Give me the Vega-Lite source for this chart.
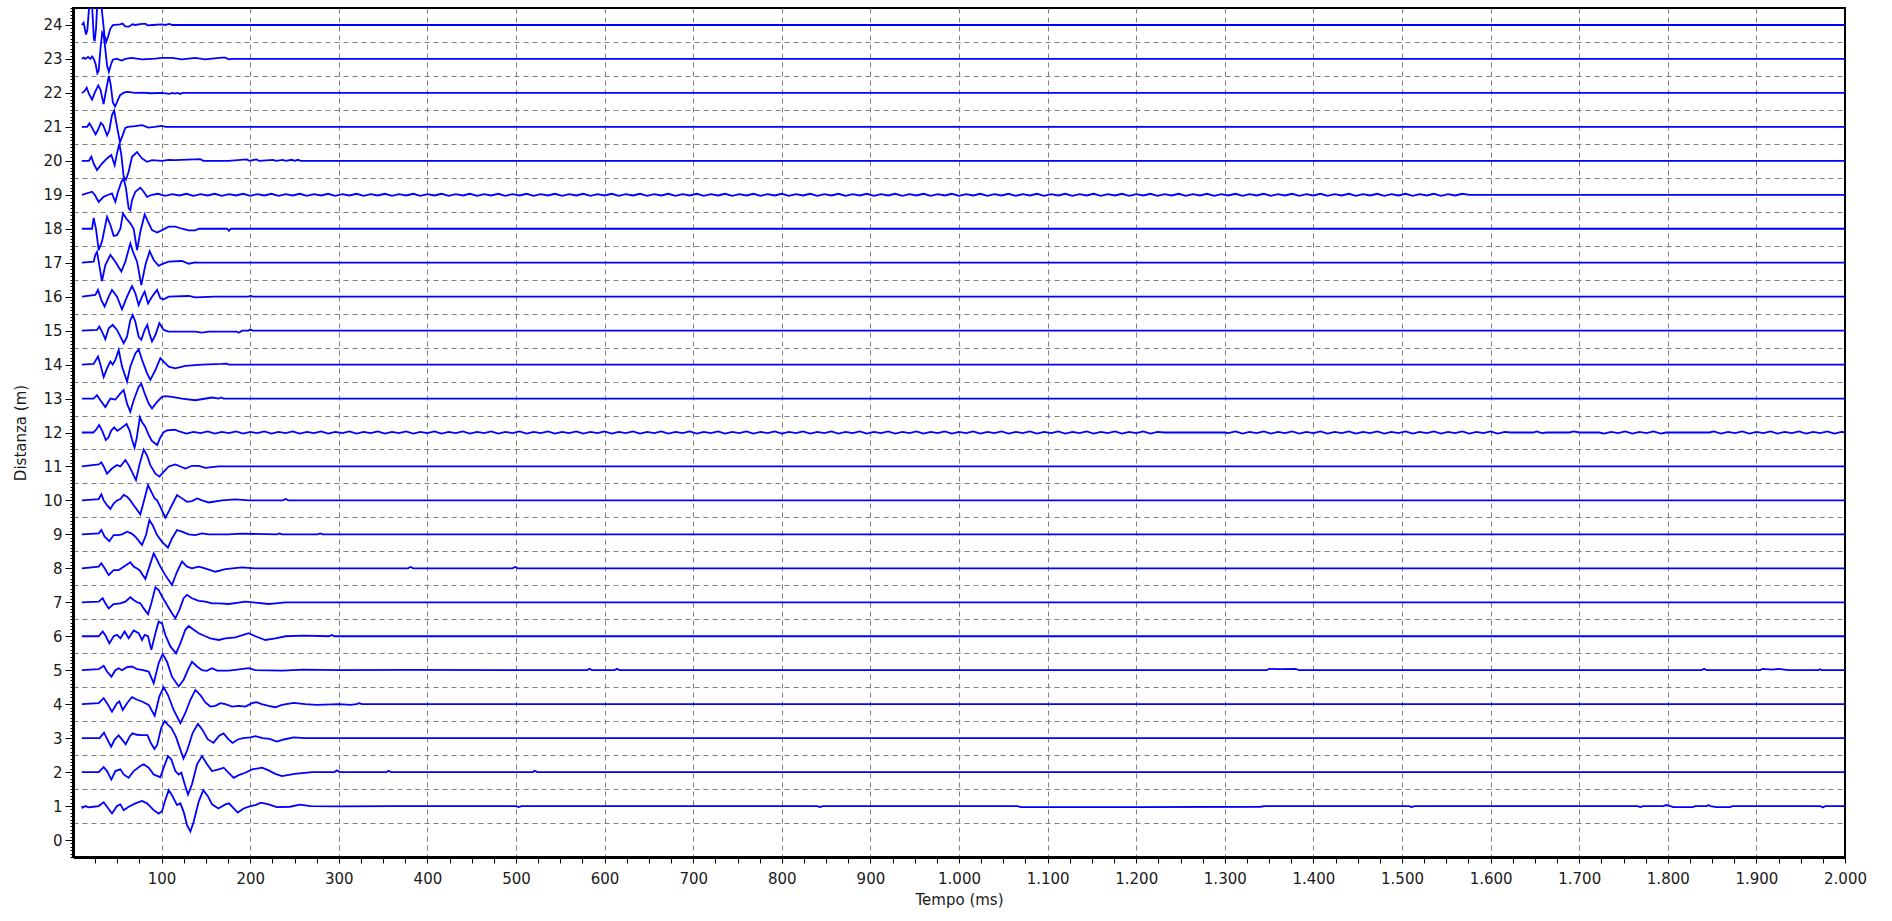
{
"$schema": "https://vega.github.io/schema/vega-lite/v6.json",
"width": 1772, "height": 849,
"autosize": {"type": "none"},
"padding": {"left": 73, "top": 8, "right": 47, "bottom": 64},
"background": "white",
"config": {"view": {"stroke": "#000", "strokeWidth": 2}},
"data": {"values": [
{"c":24,"t":10,"y":24},{"c":24,"t":12,"y":24.07},{"c":24,"t":14.7,"y":23.72},{"c":24,"t":16.2,"y":23.85},{"c":24,"t":18.4,"y":24.6},{"c":24,"t":20,"y":24.85},{"c":24,"t":21.5,"y":24.6},{"c":24,"t":23.5,"y":23.6},{"c":24,"t":24.5,"y":23.52},{"c":24,"t":26,"y":23.9},{"c":24,"t":27.5,"y":24.7},{"c":24,"t":29.5,"y":24.9},{"c":24,"t":31.5,"y":24.75},{"c":24,"t":33.5,"y":24.2},{"c":24,"t":35.5,"y":23.7},{"c":24,"t":37.5,"y":23.5},{"c":24,"t":39.5,"y":23.65},{"c":24,"t":42,"y":23.88},{"c":24,"t":45,"y":24},{"c":24,"t":53,"y":24.02},{"c":24,"t":56,"y":24.04},{"c":24,"t":59,"y":23.96},{"c":24,"t":63,"y":23.95},{"c":24,"t":67,"y":24.02},{"c":24,"t":70,"y":24},{"c":24,"t":78,"y":24.03},{"c":24,"t":82,"y":24.03},{"c":24,"t":84,"y":23.99},{"c":24,"t":90,"y":24},{"c":24,"t":100,"y":24.02},{"c":24,"t":104,"y":24},{"c":24,"t":109,"y":24.03},{"c":24,"t":112,"y":24},{"c":24,"t":2000,"y":24},
{"c":23,"t":10,"y":23},{"c":23,"t":12,"y":23.04},{"c":23,"t":14,"y":23},{"c":23,"t":17,"y":23.06},{"c":23,"t":19.5,"y":23},{"c":23,"t":21.5,"y":23.07},{"c":23,"t":23.5,"y":23},{"c":23,"t":25.5,"y":22.85},{"c":23,"t":27.5,"y":22.58},{"c":23,"t":29,"y":22.65},{"c":23,"t":31,"y":23.3},{"c":23,"t":33,"y":23.78},{"c":23,"t":34.5,"y":23.72},{"c":23,"t":36,"y":23.4},{"c":23,"t":38.5,"y":22.8},{"c":23,"t":40.5,"y":22.62},{"c":23,"t":43,"y":22.85},{"c":23,"t":45,"y":22.98},{"c":23,"t":49,"y":23.01},{"c":23,"t":55,"y":22.95},{"c":23,"t":59,"y":23},{"c":23,"t":66,"y":23.03},{"c":23,"t":78,"y":22.99},{"c":23,"t":93,"y":23.01},{"c":23,"t":100,"y":23.03},{"c":23,"t":112,"y":23.03},{"c":23,"t":123,"y":22.99},{"c":23,"t":138,"y":23.03},{"c":23,"t":149,"y":22.99},{"c":23,"t":168,"y":23.04},{"c":23,"t":172,"y":23.04},{"c":23,"t":176,"y":22.99},{"c":23,"t":180,"y":23},{"c":23,"t":2000,"y":23},
{"c":22,"t":10,"y":22},{"c":22,"t":13,"y":22.05},{"c":22,"t":15.5,"y":22.15},{"c":22,"t":18,"y":21.97},{"c":22,"t":21.5,"y":21.8},{"c":22,"t":24.5,"y":22},{"c":22,"t":28.5,"y":22.22},{"c":22,"t":31,"y":22.1},{"c":22,"t":34.5,"y":21.67},{"c":22,"t":37.5,"y":22.1},{"c":22,"t":40.5,"y":22.5},{"c":22,"t":42.5,"y":22.25},{"c":22,"t":45,"y":21.72},{"c":22,"t":47.5,"y":21.6},{"c":22,"t":50,"y":21.75},{"c":22,"t":53,"y":21.93},{"c":22,"t":57,"y":22},{"c":22,"t":60,"y":22.03},{"c":22,"t":64,"y":22.02},{"c":22,"t":70,"y":22},{"c":22,"t":78,"y":22.01},{"c":22,"t":88,"y":21.99},{"c":22,"t":100,"y":22},{"c":22,"t":109,"y":21.97},{"c":22,"t":112,"y":22},{"c":22,"t":115,"y":21.98},{"c":22,"t":118,"y":22},{"c":22,"t":121,"y":21.97},{"c":22,"t":124,"y":22},{"c":22,"t":2000,"y":22},
{"c":21,"t":10,"y":21},{"c":21,"t":16,"y":21},{"c":21,"t":18.5,"y":21.1},{"c":21,"t":21,"y":21},{"c":21,"t":25.5,"y":20.78},{"c":21,"t":28,"y":20.9},{"c":21,"t":31.5,"y":21.12},{"c":21,"t":34,"y":21.05},{"c":21,"t":38.5,"y":20.75},{"c":21,"t":41,"y":20.9},{"c":21,"t":44,"y":21.35},{"c":21,"t":46.5,"y":21.48},{"c":21,"t":49,"y":21.1},{"c":21,"t":53,"y":20.55},{"c":21,"t":56,"y":20.75},{"c":21,"t":59,"y":20.97},{"c":21,"t":62,"y":21},{"c":21,"t":70,"y":21.02},{"c":21,"t":78,"y":21.05},{"c":21,"t":85,"y":20.98},{"c":21,"t":92,"y":21},{"c":21,"t":100,"y":21.03},{"c":21,"t":105,"y":21},{"c":21,"t":2000,"y":21},
{"c":20,"t":10,"y":20},{"c":20,"t":18,"y":20},{"c":20,"t":20.7,"y":20.12},{"c":20,"t":23.3,"y":19.92},{"c":20,"t":27.1,"y":19.73},{"c":20,"t":32.7,"y":19.92},{"c":20,"t":38.4,"y":20.07},{"c":20,"t":43.3,"y":20.17},{"c":20,"t":47,"y":19.87},{"c":20,"t":49.7,"y":20.22},{"c":20,"t":52.3,"y":20.51},{"c":20,"t":54.6,"y":20.17},{"c":20,"t":57.2,"y":19.53},{"c":20,"t":59.8,"y":19.45},{"c":20,"t":62.8,"y":19.68},{"c":20,"t":66.6,"y":20.12},{"c":20,"t":72.3,"y":20.26},{"c":20,"t":77.9,"y":20.07},{"c":20,"t":83.5,"y":19.97},{"c":20,"t":89.2,"y":20.02},{"c":20,"t":100.5,"y":20},{"c":20,"t":108,"y":20.03},{"c":20,"t":115,"y":20.02},{"c":20,"t":143.7,"y":20.05},{"c":20,"t":147,"y":20},{"c":20,"t":175.7,"y":20},{"c":20,"t":196,"y":20.04},{"c":20,"t":199,"y":20},{"c":20,"t":207,"y":20.04},{"c":20,"t":210,"y":20},{"c":20,"t":226,"y":20.03},{"c":20,"t":229,"y":20},{"c":20,"t":237,"y":20.03},{"c":20,"t":240,"y":20},{"c":20,"t":247,"y":20.03},{"c":20,"t":250,"y":20},{"c":20,"t":254,"y":20.03},{"c":20,"t":257,"y":20},{"c":20,"t":2000,"y":20},
{"c":19,"t":10,"y":19},{"c":19,"t":21.5,"y":19.09},{"c":19,"t":24.5,"y":19},{"c":19,"t":29,"y":18.79},{"c":19,"t":34.5,"y":18.94},{"c":19,"t":40,"y":19},{"c":19,"t":44,"y":19.04},{"c":19,"t":47.8,"y":18.79},{"c":19,"t":50.8,"y":19.09},{"c":19,"t":54.6,"y":19.38},{"c":19,"t":57.2,"y":19.48},{"c":19,"t":59.8,"y":19.19},{"c":19,"t":62.8,"y":18.6},{"c":19,"t":64.7,"y":18.55},{"c":19,"t":66.6,"y":18.84},{"c":19,"t":70.4,"y":19.09},{"c":19,"t":76,"y":19.21},{"c":19,"t":79.8,"y":19.09},{"c":19,"t":83.5,"y":18.94},{"c":19,"t":89.2,"y":19},
{"c":19,"t":96,"y":19.03},{"c":19,"t":104,"y":18.97},{"c":19,"t":112,"y":19.02},{"c":19,"t":120,"y":18.98},{"c":19,"t":128,"y":19.03},{"c":19,"t":136,"y":18.97},{"c":19,"t":144,"y":19.02},{"c":19,"t":152,"y":18.98},{"c":19,"t":160,"y":19.03},{"c":19,"t":168,"y":18.97},{"c":19,"t":176,"y":19.02},{"c":19,"t":184,"y":18.98},{"c":19,"t":192,"y":19.03},{"c":19,"t":200,"y":18.97},{"c":19,"t":208,"y":19.02},{"c":19,"t":216,"y":18.98},{"c":19,"t":224,"y":19.03},{"c":19,"t":232,"y":18.97},{"c":19,"t":240,"y":19.02},{"c":19,"t":248,"y":18.98},{"c":19,"t":256,"y":19.03},{"c":19,"t":264,"y":18.97},{"c":19,"t":272,"y":19.02},{"c":19,"t":280,"y":18.98},{"c":19,"t":288,"y":19.03},{"c":19,"t":296,"y":18.97},{"c":19,"t":304,"y":19.02},{"c":19,"t":312,"y":18.98},{"c":19,"t":320,"y":19.03},{"c":19,"t":328,"y":18.97},{"c":19,"t":336,"y":19.02},{"c":19,"t":344,"y":18.98},{"c":19,"t":352,"y":19.03},{"c":19,"t":360,"y":18.97},{"c":19,"t":368,"y":19.02},{"c":19,"t":376,"y":18.98},{"c":19,"t":384,"y":19.03},{"c":19,"t":392,"y":18.97},{"c":19,"t":400,"y":19.02},{"c":19,"t":408,"y":18.98},{"c":19,"t":416,"y":19.03},{"c":19,"t":424,"y":18.97},{"c":19,"t":432,"y":19.02},{"c":19,"t":440,"y":18.98},{"c":19,"t":448,"y":19.03},{"c":19,"t":456,"y":18.97},{"c":19,"t":464,"y":19.02},{"c":19,"t":472,"y":18.98},{"c":19,"t":480,"y":19.03},{"c":19,"t":488,"y":18.97},{"c":19,"t":496,"y":19.02},{"c":19,"t":504,"y":18.98},{"c":19,"t":512,"y":19.03},{"c":19,"t":520,"y":18.97},{"c":19,"t":528,"y":19.02},{"c":19,"t":536,"y":18.98},{"c":19,"t":544,"y":19.03},{"c":19,"t":552,"y":18.97},{"c":19,"t":560,"y":19.02},{"c":19,"t":568,"y":18.98},{"c":19,"t":576,"y":19.03},{"c":19,"t":584,"y":18.97},{"c":19,"t":592,"y":19.02},{"c":19,"t":600,"y":18.98},{"c":19,"t":608,"y":19.03},{"c":19,"t":616,"y":18.97},{"c":19,"t":624,"y":19.02},{"c":19,"t":632,"y":18.98},{"c":19,"t":640,"y":19.03},{"c":19,"t":648,"y":18.97},{"c":19,"t":656,"y":19.02},{"c":19,"t":664,"y":18.98},{"c":19,"t":672,"y":19.03},{"c":19,"t":680,"y":18.97},{"c":19,"t":688,"y":19.02},{"c":19,"t":696,"y":18.98},{"c":19,"t":704,"y":19.03},{"c":19,"t":712,"y":18.97},{"c":19,"t":720,"y":19.02},{"c":19,"t":728,"y":18.98},{"c":19,"t":736,"y":19.03},{"c":19,"t":744,"y":18.97},{"c":19,"t":752,"y":19.02},{"c":19,"t":760,"y":18.98},{"c":19,"t":768,"y":19.03},{"c":19,"t":776,"y":18.97},{"c":19,"t":784,"y":19.02},{"c":19,"t":792,"y":18.98},{"c":19,"t":800,"y":19.03},{"c":19,"t":808,"y":18.97},{"c":19,"t":816,"y":19.02},{"c":19,"t":824,"y":18.98},{"c":19,"t":832,"y":19.03},{"c":19,"t":840,"y":18.97},{"c":19,"t":848,"y":19.02},{"c":19,"t":856,"y":18.98},{"c":19,"t":864,"y":19.03},{"c":19,"t":872,"y":18.97},{"c":19,"t":880,"y":19.02},{"c":19,"t":888,"y":18.98},{"c":19,"t":896,"y":19.03},{"c":19,"t":904,"y":18.97},{"c":19,"t":912,"y":19.02},{"c":19,"t":920,"y":18.98},{"c":19,"t":928,"y":19.03},{"c":19,"t":936,"y":18.97},{"c":19,"t":944,"y":19.02},{"c":19,"t":952,"y":18.98},{"c":19,"t":960,"y":19.03},{"c":19,"t":968,"y":18.97},{"c":19,"t":976,"y":19.02},{"c":19,"t":984,"y":18.98},{"c":19,"t":992,"y":19.03},{"c":19,"t":1000,"y":18.97},{"c":19,"t":1008,"y":19.02},{"c":19,"t":1016,"y":18.98},{"c":19,"t":1024,"y":19.03},{"c":19,"t":1032,"y":18.97},{"c":19,"t":1040,"y":19.02},{"c":19,"t":1048,"y":18.98},{"c":19,"t":1056,"y":19.03},{"c":19,"t":1064,"y":18.97},{"c":19,"t":1072,"y":19.02},{"c":19,"t":1080,"y":18.98},{"c":19,"t":1088,"y":19.03},{"c":19,"t":1096,"y":18.97},{"c":19,"t":1104,"y":19.02},{"c":19,"t":1112,"y":18.98},{"c":19,"t":1120,"y":19.03},{"c":19,"t":1128,"y":18.97},{"c":19,"t":1136,"y":19.02},{"c":19,"t":1144,"y":18.98},{"c":19,"t":1152,"y":19.03},{"c":19,"t":1160,"y":18.97},{"c":19,"t":1168,"y":19.02},{"c":19,"t":1176,"y":18.98},{"c":19,"t":1184,"y":19.03},{"c":19,"t":1192,"y":18.97},{"c":19,"t":1200,"y":19.02},{"c":19,"t":1208,"y":18.98},{"c":19,"t":1216,"y":19.03},{"c":19,"t":1224,"y":18.97},{"c":19,"t":1232,"y":19.02},{"c":19,"t":1240,"y":18.98},{"c":19,"t":1248,"y":19.03},{"c":19,"t":1256,"y":18.97},{"c":19,"t":1264,"y":19.02},{"c":19,"t":1272,"y":18.98},{"c":19,"t":1280,"y":19.03},{"c":19,"t":1288,"y":18.97},{"c":19,"t":1296,"y":19.02},{"c":19,"t":1304,"y":18.98},{"c":19,"t":1312,"y":19.03},{"c":19,"t":1320,"y":18.97},{"c":19,"t":1328,"y":19.02},{"c":19,"t":1336,"y":18.98},{"c":19,"t":1344,"y":19.03},{"c":19,"t":1352,"y":18.97},{"c":19,"t":1360,"y":19.02},{"c":19,"t":1368,"y":18.98},{"c":19,"t":1376,"y":19.03},{"c":19,"t":1384,"y":18.97},{"c":19,"t":1392,"y":19.02},{"c":19,"t":1400,"y":18.98},{"c":19,"t":1408,"y":19.03},{"c":19,"t":1416,"y":18.97},{"c":19,"t":1424,"y":19.02},{"c":19,"t":1432,"y":18.98},{"c":19,"t":1440,"y":19.03},{"c":19,"t":1448,"y":18.97},{"c":19,"t":1456,"y":19.02},{"c":19,"t":1464,"y":18.98},{"c":19,"t":1472,"y":19.03},{"c":19,"t":1480,"y":18.97},{"c":19,"t":1488,"y":19.02},{"c":19,"t":1496,"y":18.98},{"c":19,"t":1504,"y":19.03},{"c":19,"t":1512,"y":18.97},{"c":19,"t":1520,"y":19.02},{"c":19,"t":1528,"y":18.98},{"c":19,"t":1536,"y":19.03},{"c":19,"t":1544,"y":18.97},{"c":19,"t":1552,"y":19.02},{"c":19,"t":1560,"y":18.98},{"c":19,"t":1568,"y":19.03},{"c":19,"t":1576,"y":19},{"c":19,"t":2000,"y":19},
{"c":18,"t":10,"y":18},{"c":18,"t":21.5,"y":18},{"c":18,"t":23.3,"y":18.32},{"c":18,"t":25.9,"y":18},{"c":18,"t":29,"y":17.37},{"c":18,"t":32.7,"y":17.62},{"c":18,"t":38.4,"y":18.35},{"c":18,"t":42.2,"y":18.11},{"c":18,"t":45.9,"y":17.79},{"c":18,"t":49.7,"y":17.81},{"c":18,"t":53.5,"y":18},{"c":18,"t":56.4,"y":18.45},{"c":18,"t":60.2,"y":18.3},{"c":18,"t":64.7,"y":18.16},{"c":18,"t":68.5,"y":18},{"c":18,"t":72.3,"y":17.37},{"c":18,"t":76,"y":17.91},{"c":18,"t":80.9,"y":18.42},{"c":18,"t":84.7,"y":18.2},{"c":18,"t":89.2,"y":17.96},{"c":18,"t":94.9,"y":17.89},{"c":18,"t":100.5,"y":17.96},{"c":18,"t":108,"y":18.06},{"c":18,"t":115.5,"y":18.06},{"c":18,"t":123,"y":18},{"c":18,"t":130.6,"y":17.95},{"c":18,"t":138.1,"y":17.95},{"c":18,"t":141.9,"y":18},{"c":18,"t":174,"y":18},{"c":18,"t":176,"y":17.94},{"c":18,"t":178,"y":18},{"c":18,"t":2000,"y":18},
{"c":17,"t":10,"y":17},{"c":17,"t":23.3,"y":17.03},{"c":17,"t":25.2,"y":17.23},{"c":17,"t":27.1,"y":17.32},{"c":17,"t":29,"y":17.03},{"c":17,"t":32.7,"y":16.46},{"c":17,"t":36.5,"y":16.93},{"c":17,"t":42.2,"y":17.23},{"c":17,"t":47.8,"y":17.03},{"c":17,"t":54.6,"y":16.74},{"c":17,"t":59.1,"y":17.03},{"c":17,"t":64.7,"y":17.57},{"c":17,"t":67.7,"y":17.32},{"c":17,"t":72.3,"y":17.03},{"c":17,"t":77.1,"y":16.34},{"c":17,"t":81.7,"y":16.93},{"c":17,"t":86.5,"y":17.34},{"c":17,"t":91.1,"y":17.08},{"c":17,"t":96.7,"y":16.91},{"c":17,"t":100.5,"y":16.96},{"c":17,"t":108,"y":17.03},{"c":17,"t":123,"y":17.05},{"c":17,"t":130.6,"y":16.97},{"c":17,"t":138,"y":17.01},{"c":17,"t":142,"y":17},{"c":17,"t":2000,"y":17},
{"c":16,"t":10,"y":16},{"c":16,"t":25.2,"y":16.05},{"c":16,"t":28.2,"y":16.2},{"c":16,"t":32,"y":15.9},{"c":16,"t":35.7,"y":15.71},{"c":16,"t":40.3,"y":16},{"c":16,"t":44,"y":16.2},{"c":16,"t":49.7,"y":16},{"c":16,"t":55.3,"y":15.63},{"c":16,"t":61,"y":16},{"c":16,"t":66.6,"y":16.31},{"c":16,"t":70.4,"y":16.1},{"c":16,"t":74.1,"y":15.75},{"c":16,"t":77.9,"y":16},{"c":16,"t":80.9,"y":16.15},{"c":16,"t":84.7,"y":15.8},{"c":16,"t":89.2,"y":16},{"c":16,"t":94.9,"y":16.2},{"c":16,"t":98.6,"y":15.95},{"c":16,"t":102.3,"y":15.92},{"c":16,"t":108,"y":16},{"c":16,"t":130.6,"y":16.02},{"c":16,"t":138.1,"y":15.98},{"c":16,"t":160,"y":16},{"c":16,"t":198,"y":16},{"c":16,"t":200,"y":16.03},{"c":16,"t":203,"y":16},{"c":16,"t":2000,"y":16},
{"c":15,"t":10,"y":15},{"c":15,"t":27.1,"y":15.02},{"c":15,"t":29.7,"y":15.12},{"c":15,"t":32.7,"y":14.97},{"c":15,"t":36.5,"y":14.75},{"c":15,"t":40.3,"y":15.07},{"c":15,"t":44.8,"y":15.17},{"c":15,"t":49.7,"y":15.02},{"c":15,"t":57.2,"y":14.63},{"c":15,"t":61,"y":14.82},{"c":15,"t":64.7,"y":15.31},{"c":15,"t":67.4,"y":15.46},{"c":15,"t":70.4,"y":15.26},{"c":15,"t":74.1,"y":14.82},{"c":15,"t":77.1,"y":14.73},{"c":15,"t":80.9,"y":15.02},{"c":15,"t":83.9,"y":15.17},{"c":15,"t":86.2,"y":14.92},{"c":15,"t":89.2,"y":14.68},{"c":15,"t":93,"y":14.87},{"c":15,"t":97.5,"y":15.22},{"c":15,"t":102.3,"y":15.02},{"c":15,"t":108,"y":14.97},{"c":15,"t":115.5,"y":14.97},{"c":15,"t":138,"y":14.97},{"c":15,"t":145.6,"y":14.94},{"c":15,"t":153,"y":14.97},{"c":15,"t":185,"y":14.97},{"c":15,"t":187,"y":14.94},{"c":15,"t":190.8,"y":15},{"c":15,"t":198,"y":15},{"c":15,"t":200,"y":15.03},{"c":15,"t":203,"y":15},{"c":15,"t":2000,"y":15},
{"c":14,"t":10,"y":14},{"c":14,"t":23.3,"y":14.02},{"c":14,"t":28.2,"y":14.24},{"c":14,"t":30.9,"y":14},{"c":14,"t":34.6,"y":13.63},{"c":14,"t":38.4,"y":13.89},{"c":14,"t":42.2,"y":14.09},{"c":14,"t":44.8,"y":14},{"c":14,"t":47.8,"y":14.14},{"c":14,"t":51.6,"y":14.43},{"c":14,"t":55.3,"y":13.94},{"c":14,"t":61,"y":13.5},{"c":14,"t":64.7,"y":13.94},{"c":14,"t":70.4,"y":14.33},{"c":14,"t":74.1,"y":14.45},{"c":14,"t":77.9,"y":14.14},{"c":14,"t":83.5,"y":13.75},{"c":14,"t":87.3,"y":13.55},{"c":14,"t":93,"y":13.84},{"c":14,"t":98.6,"y":14.19},{"c":14,"t":102.3,"y":14.09},{"c":14,"t":108,"y":13.94},{"c":14,"t":115.5,"y":13.89},{"c":14,"t":126.8,"y":13.96},{"c":14,"t":145.6,"y":14},{"c":14,"t":168.2,"y":14.02},{"c":14,"t":173,"y":14.03},{"c":14,"t":176,"y":14},{"c":14,"t":2000,"y":14},
{"c":13,"t":10,"y":13},{"c":13,"t":23.3,"y":13},{"c":13,"t":27.1,"y":13.1},{"c":13,"t":30.9,"y":12.95},{"c":13,"t":36.5,"y":12.75},{"c":13,"t":42.2,"y":13},{"c":13,"t":47.8,"y":12.97},{"c":13,"t":53.5,"y":13.15},{"c":13,"t":57.2,"y":13.25},{"c":13,"t":61,"y":12.85},{"c":13,"t":64.7,"y":12.61},{"c":13,"t":68.5,"y":12.95},{"c":13,"t":74.1,"y":13.34},{"c":13,"t":77.1,"y":13.44},{"c":13,"t":80.9,"y":13.15},{"c":13,"t":85.4,"y":12.85},{"c":13,"t":89.2,"y":12.71},{"c":13,"t":94.9,"y":12.9},{"c":13,"t":100.5,"y":13.05},{"c":13,"t":104.2,"y":13.07},{"c":13,"t":111.7,"y":13.05},{"c":13,"t":123,"y":13},{"c":13,"t":138.1,"y":12.95},{"c":13,"t":156.9,"y":13.03},{"c":13,"t":164.4,"y":13},{"c":13,"t":167,"y":13.03},{"c":13,"t":170,"y":13},{"c":13,"t":2000,"y":13},
{"c":12,"t":10,"y":12},{"c":12,"t":23,"y":12},{"c":12,"t":26,"y":12.08},{"c":12,"t":29.5,"y":12.22},{"c":12,"t":33,"y":12.05},{"c":12,"t":37,"y":11.78},{"c":12,"t":40,"y":11.85},{"c":12,"t":43,"y":12.05},{"c":12,"t":46.5,"y":12.15},{"c":12,"t":50,"y":12.05},{"c":12,"t":53,"y":12.1},{"c":12,"t":57,"y":12.18},{"c":12,"t":60.5,"y":12.25},{"c":12,"t":64,"y":12.05},{"c":12,"t":66.5,"y":11.8},{"c":12,"t":69.5,"y":11.55},{"c":12,"t":72,"y":11.85},{"c":12,"t":75.5,"y":12.45},{"c":12,"t":78,"y":12.3},{"c":12,"t":81.5,"y":12.17},{"c":12,"t":85,"y":11.95},{"c":12,"t":89,"y":11.75},{"c":12,"t":95,"y":11.63},{"c":12,"t":98.5,"y":11.85},{"c":12,"t":102,"y":12},{"c":12,"t":106,"y":12.06},{"c":12,"t":115,"y":12.08},
{"c":12,"t":120,"y":12.03},{"c":12,"t":128,"y":11.97},{"c":12,"t":136,"y":12.02},{"c":12,"t":144,"y":11.98},{"c":12,"t":152,"y":12.03},{"c":12,"t":160,"y":11.97},{"c":12,"t":168,"y":12.02},{"c":12,"t":176,"y":11.98},{"c":12,"t":184,"y":12.03},{"c":12,"t":192,"y":11.97},{"c":12,"t":200,"y":12.02},{"c":12,"t":208,"y":11.98},{"c":12,"t":216,"y":12.03},{"c":12,"t":224,"y":11.97},{"c":12,"t":232,"y":12.02},{"c":12,"t":240,"y":11.98},{"c":12,"t":248,"y":12.03},{"c":12,"t":256,"y":11.97},{"c":12,"t":264,"y":12.02},{"c":12,"t":272,"y":11.98},{"c":12,"t":280,"y":12.03},{"c":12,"t":288,"y":11.97},{"c":12,"t":296,"y":12.02},{"c":12,"t":304,"y":11.98},{"c":12,"t":312,"y":12.03},{"c":12,"t":320,"y":11.97},{"c":12,"t":328,"y":12.02},{"c":12,"t":336,"y":11.98},{"c":12,"t":344,"y":12.03},{"c":12,"t":352,"y":11.97},{"c":12,"t":360,"y":12.02},{"c":12,"t":368,"y":11.98},{"c":12,"t":376,"y":12.03},{"c":12,"t":384,"y":11.97},{"c":12,"t":392,"y":12.02},{"c":12,"t":400,"y":11.98},{"c":12,"t":408,"y":12.03},{"c":12,"t":416,"y":11.97},{"c":12,"t":424,"y":12.02},{"c":12,"t":432,"y":11.98},{"c":12,"t":440,"y":12.03},{"c":12,"t":448,"y":11.97},{"c":12,"t":456,"y":12.02},{"c":12,"t":464,"y":11.98},{"c":12,"t":472,"y":12.03},{"c":12,"t":480,"y":11.97},{"c":12,"t":488,"y":12.02},{"c":12,"t":496,"y":11.98},{"c":12,"t":504,"y":12.03},{"c":12,"t":512,"y":11.97},{"c":12,"t":520,"y":12.02},{"c":12,"t":528,"y":11.98},{"c":12,"t":536,"y":12.03},{"c":12,"t":544,"y":11.97},{"c":12,"t":552,"y":12.02},{"c":12,"t":560,"y":11.98},{"c":12,"t":568,"y":12.03},{"c":12,"t":576,"y":11.97},{"c":12,"t":584,"y":12.02},{"c":12,"t":592,"y":11.98},{"c":12,"t":600,"y":12.03},{"c":12,"t":608,"y":11.97},{"c":12,"t":616,"y":12.02},{"c":12,"t":624,"y":11.98},{"c":12,"t":632,"y":12.03},{"c":12,"t":640,"y":11.97},{"c":12,"t":648,"y":12.02},{"c":12,"t":656,"y":11.98},{"c":12,"t":664,"y":12.03},{"c":12,"t":672,"y":11.97},{"c":12,"t":680,"y":12.02},{"c":12,"t":688,"y":11.98},{"c":12,"t":696,"y":12.03},{"c":12,"t":704,"y":11.97},{"c":12,"t":712,"y":12.02},{"c":12,"t":720,"y":11.98},{"c":12,"t":728,"y":12.03},{"c":12,"t":736,"y":11.97},{"c":12,"t":744,"y":12.02},{"c":12,"t":752,"y":11.98},{"c":12,"t":760,"y":12.03},{"c":12,"t":768,"y":11.97},{"c":12,"t":776,"y":12.02},{"c":12,"t":784,"y":11.98},{"c":12,"t":792,"y":12.03},{"c":12,"t":800,"y":11.97},{"c":12,"t":808,"y":12.02},{"c":12,"t":816,"y":11.98},{"c":12,"t":824,"y":12.03},{"c":12,"t":832,"y":11.97},{"c":12,"t":840,"y":12.02},{"c":12,"t":848,"y":11.98},{"c":12,"t":856,"y":12.03},{"c":12,"t":864,"y":11.97},{"c":12,"t":872,"y":12.02},{"c":12,"t":880,"y":11.98},{"c":12,"t":888,"y":12.03},{"c":12,"t":896,"y":11.97},{"c":12,"t":904,"y":12.02},{"c":12,"t":912,"y":11.98},{"c":12,"t":920,"y":12.03},{"c":12,"t":928,"y":11.97},{"c":12,"t":936,"y":12.02},{"c":12,"t":944,"y":11.98},{"c":12,"t":952,"y":12.03},{"c":12,"t":960,"y":11.97},{"c":12,"t":968,"y":12.02},{"c":12,"t":976,"y":11.98},{"c":12,"t":984,"y":12.03},{"c":12,"t":992,"y":11.97},{"c":12,"t":1000,"y":12.02},{"c":12,"t":1008,"y":11.98},{"c":12,"t":1016,"y":12.03},{"c":12,"t":1024,"y":11.97},{"c":12,"t":1032,"y":12.02},{"c":12,"t":1040,"y":11.98},{"c":12,"t":1048,"y":12.03},{"c":12,"t":1056,"y":11.97},{"c":12,"t":1064,"y":12.02},{"c":12,"t":1072,"y":11.98},{"c":12,"t":1080,"y":12.03},{"c":12,"t":1088,"y":11.97},{"c":12,"t":1096,"y":12.02},{"c":12,"t":1104,"y":11.98},{"c":12,"t":1112,"y":12.03},{"c":12,"t":1120,"y":11.97},{"c":12,"t":1128,"y":12.02},{"c":12,"t":1136,"y":11.98},{"c":12,"t":1144,"y":12.03},{"c":12,"t":1152,"y":11.97},{"c":12,"t":1160,"y":12.02},{"c":12,"t":1168,"y":11.98},{"c":12,"t":1176,"y":12.03},{"c":12,"t":1184,"y":11.97},{"c":12,"t":1192,"y":12.02},{"c":12,"t":1200,"y":11.98},{"c":12,"t":1208,"y":12.03},{"c":12,"t":1216,"y":11.97},{"c":12,"t":1224,"y":12.02},{"c":12,"t":1232,"y":12},{"c":12,"t":1300,"y":12},{"c":12,"t":1304,"y":11.98},{"c":12,"t":1312,"y":12.03},{"c":12,"t":1320,"y":11.97},{"c":12,"t":1328,"y":12.02},{"c":12,"t":1336,"y":11.98},{"c":12,"t":1344,"y":12.03},{"c":12,"t":1352,"y":11.97},{"c":12,"t":1360,"y":12.02},{"c":12,"t":1368,"y":11.98},{"c":12,"t":1376,"y":12.03},{"c":12,"t":1384,"y":11.97},{"c":12,"t":1392,"y":12.02},{"c":12,"t":1400,"y":11.98},{"c":12,"t":1408,"y":12.03},{"c":12,"t":1416,"y":11.97},{"c":12,"t":1424,"y":12.02},{"c":12,"t":1432,"y":11.98},{"c":12,"t":1440,"y":12.03},{"c":12,"t":1448,"y":11.97},{"c":12,"t":1456,"y":12.02},{"c":12,"t":1464,"y":11.98},{"c":12,"t":1472,"y":12.03},{"c":12,"t":1480,"y":11.97},{"c":12,"t":1488,"y":12.02},{"c":12,"t":1496,"y":11.98},{"c":12,"t":1504,"y":12.03},{"c":12,"t":1512,"y":11.97},{"c":12,"t":1520,"y":12.02},{"c":12,"t":1528,"y":11.98},{"c":12,"t":1536,"y":12.03},{"c":12,"t":1544,"y":11.97},{"c":12,"t":1552,"y":12.02},{"c":12,"t":1560,"y":11.98},{"c":12,"t":1568,"y":12.03},{"c":12,"t":1576,"y":11.97},{"c":12,"t":1584,"y":12.02},{"c":12,"t":1592,"y":11.98},{"c":12,"t":1600,"y":12.03},{"c":12,"t":1608,"y":11.97},{"c":12,"t":1616,"y":12.02},{"c":12,"t":1622,"y":12},{"c":12,"t":1648,"y":12},{"c":12,"t":1652,"y":12.03},{"c":12,"t":1658,"y":11.98},{"c":12,"t":1663,"y":12},{"c":12,"t":1689,"y":12},{"c":12,"t":1694,"y":12.03},{"c":12,"t":1700,"y":12},{"c":12,"t":1723,"y":12},{"c":12,"t":1728,"y":11.97},{"c":12,"t":1736,"y":12.02},{"c":12,"t":1744,"y":11.98},{"c":12,"t":1752,"y":12.03},{"c":12,"t":1760,"y":11.97},{"c":12,"t":1768,"y":12.02},{"c":12,"t":1776,"y":11.98},{"c":12,"t":1784,"y":12.03},{"c":12,"t":1792,"y":11.97},{"c":12,"t":1798,"y":12},{"c":12,"t":1847,"y":12},{"c":12,"t":1852,"y":12.03},{"c":12,"t":1860,"y":11.97},{"c":12,"t":1868,"y":12.02},{"c":12,"t":1876,"y":11.98},{"c":12,"t":1884,"y":12.03},{"c":12,"t":1892,"y":11.97},{"c":12,"t":1900,"y":12.02},{"c":12,"t":1908,"y":11.98},{"c":12,"t":1916,"y":12.03},{"c":12,"t":1924,"y":11.97},{"c":12,"t":1932,"y":12.02},{"c":12,"t":1940,"y":11.98},{"c":12,"t":1948,"y":12.03},{"c":12,"t":1956,"y":11.97},{"c":12,"t":1964,"y":12.02},{"c":12,"t":1972,"y":11.98},{"c":12,"t":1980,"y":12.03},{"c":12,"t":1988,"y":11.97},{"c":12,"t":1996,"y":12.02},{"c":12,"t":2000,"y":12.01},
{"c":11,"t":10,"y":11},{"c":11,"t":29,"y":11.06},{"c":11,"t":32,"y":11.12},{"c":11,"t":34.6,"y":11},{"c":11,"t":38.4,"y":10.79},{"c":11,"t":44,"y":10.94},{"c":11,"t":49.7,"y":11.04},{"c":11,"t":53.5,"y":11},{"c":11,"t":59.1,"y":11.19},{"c":11,"t":62.8,"y":11.04},{"c":11,"t":66.6,"y":10.84},{"c":11,"t":71.1,"y":10.6},{"c":11,"t":74.9,"y":11.04},{"c":11,"t":79.8,"y":11.5},{"c":11,"t":83.5,"y":11.33},{"c":11,"t":87.3,"y":11.04},{"c":11,"t":93,"y":10.79},{"c":11,"t":97.5,"y":10.7},{"c":11,"t":102.3,"y":10.84},{"c":11,"t":108,"y":11},{"c":11,"t":115.5,"y":11.06},{"c":11,"t":121.2,"y":11},{"c":11,"t":126.8,"y":10.94},{"c":11,"t":134.3,"y":11.02},{"c":11,"t":141.9,"y":11.02},{"c":11,"t":149.4,"y":10.96},{"c":11,"t":164.4,"y":11},{"c":11,"t":2000,"y":11},
{"c":10,"t":10,"y":10},{"c":10,"t":29,"y":10.04},{"c":10,"t":32,"y":10.18},{"c":10,"t":34.6,"y":10},{"c":10,"t":38.4,"y":9.86},{"c":10,"t":42.2,"y":9.75},{"c":10,"t":45.9,"y":9.91},{"c":10,"t":49.7,"y":10},{"c":10,"t":53.5,"y":10.04},{"c":10,"t":57.2,"y":10.16},{"c":10,"t":61,"y":10.11},{"c":10,"t":64.7,"y":10},{"c":10,"t":68.5,"y":9.86},{"c":10,"t":76,"y":9.59},{"c":10,"t":79.8,"y":9.96},{"c":10,"t":84.7,"y":10.45},{"c":10,"t":88.4,"y":10.25},{"c":10,"t":92.2,"y":10.06},{"c":10,"t":94.9,"y":10},{"c":10,"t":98.6,"y":9.81},{"c":10,"t":104.2,"y":9.49},{"c":10,"t":108,"y":9.67},{"c":10,"t":113.6,"y":9.96},{"c":10,"t":117.4,"y":10.16},{"c":10,"t":123,"y":10.06},{"c":10,"t":128.7,"y":9.96},{"c":10,"t":134.3,"y":9.98},{"c":10,"t":140,"y":10.06},{"c":10,"t":145.6,"y":10},{"c":10,"t":153.2,"y":9.94},{"c":10,"t":168.2,"y":10},{"c":10,"t":183.2,"y":10.03},{"c":10,"t":198.3,"y":10},{"c":10,"t":237,"y":10},{"c":10,"t":240,"y":10.04},{"c":10,"t":243,"y":10},{"c":10,"t":2000,"y":10},
{"c":9,"t":10,"y":9},{"c":9,"t":29,"y":9.03},{"c":9,"t":32,"y":9.13},{"c":9,"t":35.7,"y":8.93},{"c":9,"t":41,"y":8.8},{"c":9,"t":45.9,"y":8.98},{"c":9,"t":50.8,"y":8.98},{"c":9,"t":55.3,"y":9},{"c":9,"t":61,"y":9.08},{"c":9,"t":65.8,"y":9.03},{"c":9,"t":70.4,"y":8.93},{"c":9,"t":77.9,"y":8.69},{"c":9,"t":82.4,"y":8.98},{"c":9,"t":86.2,"y":9.42},{"c":9,"t":89.9,"y":9.27},{"c":9,"t":94.9,"y":8.98},{"c":9,"t":100.5,"y":8.78},{"c":9,"t":107.2,"y":8.61},{"c":9,"t":111.7,"y":8.88},{"c":9,"t":117.4,"y":9.13},{"c":9,"t":123,"y":9.08},{"c":9,"t":130.6,"y":9},{"c":9,"t":138.1,"y":8.98},{"c":9,"t":145.6,"y":9.03},{"c":9,"t":153,"y":9},{"c":9,"t":175,"y":9},{"c":9,"t":190,"y":9.02},{"c":9,"t":230,"y":9},{"c":9,"t":233,"y":9.03},{"c":9,"t":236,"y":9},{"c":9,"t":276,"y":9},{"c":9,"t":279,"y":9.03},{"c":9,"t":282,"y":9},{"c":9,"t":2000,"y":9},
{"c":8,"t":10,"y":8},{"c":8,"t":29,"y":8.05},{"c":8,"t":32,"y":8.15},{"c":8,"t":35.7,"y":8},{"c":8,"t":40.3,"y":7.8},{"c":8,"t":45.9,"y":7.95},{"c":8,"t":51.6,"y":7.95},{"c":8,"t":57.2,"y":8.05},{"c":8,"t":64.7,"y":8.18},{"c":8,"t":68.5,"y":8.05},{"c":8,"t":74.9,"y":7.95},{"c":8,"t":81.7,"y":7.69},{"c":8,"t":86.2,"y":8.05},{"c":8,"t":91.1,"y":8.44},{"c":8,"t":94.9,"y":8.25},{"c":8,"t":98.6,"y":8.05},{"c":8,"t":104.2,"y":7.8},{"c":8,"t":111.7,"y":7.51},{"c":8,"t":117.4,"y":7.9},{"c":8,"t":123,"y":8.2},{"c":8,"t":128.7,"y":8.05},{"c":8,"t":134.3,"y":8},{"c":8,"t":141.9,"y":8.05},{"c":8,"t":149,"y":8},{"c":8,"t":160.7,"y":7.9},{"c":8,"t":172,"y":7.98},{"c":8,"t":190.8,"y":8.03},{"c":8,"t":205,"y":8},{"c":8,"t":378,"y":8},{"c":8,"t":381,"y":8.04},{"c":8,"t":384,"y":8},{"c":8,"t":496,"y":8},{"c":8,"t":499,"y":8.04},{"c":8,"t":502,"y":8},{"c":8,"t":2000,"y":8},
{"c":7,"t":10,"y":7},{"c":7,"t":29,"y":7.02},{"c":7,"t":33.5,"y":7.12},{"c":7,"t":36.5,"y":6.97},{"c":7,"t":40.3,"y":6.82},{"c":7,"t":45.9,"y":6.95},{"c":7,"t":53.5,"y":6.97},{"c":7,"t":59.1,"y":7.02},{"c":7,"t":64.7,"y":7.15},{"c":7,"t":68.5,"y":7.07},{"c":7,"t":72.3,"y":7},{"c":7,"t":76,"y":6.97},{"c":7,"t":79.8,"y":6.82},{"c":7,"t":84.7,"y":6.65},{"c":7,"t":88.4,"y":6.97},{"c":7,"t":93,"y":7.44},{"c":7,"t":96.7,"y":7.36},{"c":7,"t":100.5,"y":7.17},{"c":7,"t":106.1,"y":6.92},{"c":7,"t":111.7,"y":6.68},{"c":7,"t":115.5,"y":6.53},{"c":7,"t":120,"y":6.77},{"c":7,"t":124.9,"y":7.12},{"c":7,"t":128.7,"y":7.22},{"c":7,"t":134.3,"y":7.12},{"c":7,"t":141.9,"y":7.04},{"c":7,"t":149.4,"y":7.02},{"c":7,"t":156.9,"y":6.97},{"c":7,"t":164.4,"y":6.97},{"c":7,"t":175.7,"y":6.95},{"c":7,"t":187,"y":6.99},{"c":7,"t":194.5,"y":7.02},{"c":7,"t":205.8,"y":6.99},{"c":7,"t":220.8,"y":6.95},{"c":7,"t":228.4,"y":6.97},{"c":7,"t":240,"y":7},{"c":7,"t":2000,"y":7},
{"c":6,"t":10,"y":6},{"c":6,"t":29,"y":6},{"c":6,"t":33.5,"y":6.14},{"c":6,"t":37.2,"y":6},{"c":6,"t":41,"y":5.79},{"c":6,"t":45.9,"y":6},{"c":6,"t":49.7,"y":6.04},{"c":6,"t":53.5,"y":5.94},{"c":6,"t":58.3,"y":6.14},{"c":6,"t":62.8,"y":5.94},{"c":6,"t":68.5,"y":6.17},{"c":6,"t":74.1,"y":6.09},{"c":6,"t":77.9,"y":5.89},{"c":6,"t":80.9,"y":6.04},{"c":6,"t":84.7,"y":6},{"c":6,"t":88.4,"y":5.6},{"c":6,"t":93,"y":6.09},{"c":6,"t":96.7,"y":6.43},{"c":6,"t":100.5,"y":6.38},{"c":6,"t":104.2,"y":6.04},{"c":6,"t":109.9,"y":5.7},{"c":6,"t":116.3,"y":5.5},{"c":6,"t":121.2,"y":5.79},{"c":6,"t":126.8,"y":6.19},{"c":6,"t":130.6,"y":6.3},{"c":6,"t":136.2,"y":6.19},{"c":6,"t":141.9,"y":6.09},{"c":6,"t":149.4,"y":6},{"c":6,"t":155,"y":5.94},{"c":6,"t":164.4,"y":5.89},{"c":6,"t":172,"y":5.94},{"c":6,"t":183.2,"y":5.97},{"c":6,"t":198.3,"y":6.09},{"c":6,"t":205.8,"y":6},{"c":6,"t":217.1,"y":5.89},{"c":6,"t":228.4,"y":5.94},{"c":6,"t":240,"y":6},{"c":6,"t":260,"y":6.02},{"c":6,"t":289,"y":6},{"c":6,"t":292,"y":6.04},{"c":6,"t":295,"y":6},{"c":6,"t":2000,"y":6},
{"c":5,"t":10,"y":5},{"c":5,"t":29,"y":5.03},{"c":5,"t":34.6,"y":5.13},{"c":5,"t":38.4,"y":4.96},{"c":5,"t":43.3,"y":4.81},{"c":5,"t":47.8,"y":5},{"c":5,"t":51.6,"y":5.06},{"c":5,"t":55.3,"y":5},{"c":5,"t":61,"y":5.09},{"c":5,"t":66.6,"y":5.11},{"c":5,"t":72.3,"y":5.03},{"c":5,"t":77.9,"y":5.01},{"c":5,"t":85.4,"y":4.96},{"c":5,"t":91.1,"y":4.62},{"c":5,"t":96.7,"y":5.21},{"c":5,"t":101.2,"y":5.48},{"c":5,"t":106.1,"y":5.25},{"c":5,"t":111.7,"y":4.81},{"c":5,"t":119.3,"y":4.52},{"c":5,"t":124.9,"y":4.72},{"c":5,"t":130.6,"y":5.06},{"c":5,"t":134.3,"y":5.25},{"c":5,"t":140,"y":5.11},{"c":5,"t":145.6,"y":5},{"c":5,"t":151,"y":4.98},{"c":5,"t":156.9,"y":5.06},{"c":5,"t":162.6,"y":4.99},{"c":5,"t":175.7,"y":4.99},{"c":5,"t":183,"y":5.01},{"c":5,"t":198.3,"y":5.06},{"c":5,"t":205.8,"y":5},{"c":5,"t":236,"y":4.99},{"c":5,"t":260,"y":5.02},{"c":5,"t":300,"y":5},{"c":5,"t":380,"y":5.01},{"c":5,"t":580,"y":5},{"c":5,"t":583,"y":5.04},{"c":5,"t":586,"y":5},{"c":5,"t":611,"y":5},{"c":5,"t":614,"y":5.04},{"c":5,"t":617,"y":5},{"c":5,"t":1347,"y":5},{"c":5,"t":1350,"y":5.04},{"c":5,"t":1362,"y":5.03},{"c":5,"t":1380,"y":5.04},{"c":5,"t":1384,"y":5},{"c":5,"t":1838,"y":5},{"c":5,"t":1841,"y":5.04},{"c":5,"t":1844,"y":5},{"c":5,"t":1904,"y":5},{"c":5,"t":1907,"y":5.04},{"c":5,"t":1918,"y":5.02},{"c":5,"t":1925,"y":5.04},{"c":5,"t":1936,"y":5},{"c":5,"t":1970,"y":5},{"c":5,"t":1972,"y":5.03},{"c":5,"t":1974,"y":5},{"c":5,"t":2000,"y":5},
{"c":4,"t":10,"y":4},{"c":4,"t":29,"y":4.03},{"c":4,"t":34.6,"y":4.18},{"c":4,"t":38.4,"y":4.03},{"c":4,"t":44,"y":3.78},{"c":4,"t":49.7,"y":4.03},{"c":4,"t":52.3,"y":4.08},{"c":4,"t":56.1,"y":3.83},{"c":4,"t":61,"y":4.03},{"c":4,"t":66.6,"y":4.21},{"c":4,"t":72.3,"y":4.13},{"c":4,"t":77.9,"y":4.08},{"c":4,"t":85.4,"y":3.98},{"c":4,"t":92.2,"y":3.66},{"c":4,"t":97.5,"y":4.23},{"c":4,"t":102.3,"y":4.5},{"c":4,"t":107.2,"y":4.27},{"c":4,"t":113.6,"y":3.83},{"c":4,"t":121.2,"y":3.44},{"c":4,"t":126.8,"y":3.74},{"c":4,"t":132.5,"y":4.13},{"c":4,"t":138.1,"y":4.42},{"c":4,"t":143.7,"y":4.27},{"c":4,"t":149.4,"y":4.05},{"c":4,"t":155,"y":3.93},{"c":4,"t":160.7,"y":3.95},{"c":4,"t":166.3,"y":4.03},{"c":4,"t":172,"y":4},{"c":4,"t":179.5,"y":3.93},{"c":4,"t":187,"y":3.95},{"c":4,"t":194.5,"y":3.93},{"c":4,"t":202.1,"y":4.03},{"c":4,"t":207,"y":4.06},{"c":4,"t":213,"y":4},{"c":4,"t":220.8,"y":3.95},{"c":4,"t":228.4,"y":3.91},{"c":4,"t":235.9,"y":3.98},{"c":4,"t":249,"y":4.04},{"c":4,"t":262,"y":4},{"c":4,"t":275,"y":3.98},{"c":4,"t":300,"y":4},{"c":4,"t":313,"y":3.98},{"c":4,"t":320,"y":4},{"c":4,"t":323,"y":4.03},{"c":4,"t":326,"y":4},{"c":4,"t":2000,"y":4},
{"c":3,"t":10,"y":3},{"c":3,"t":30,"y":3},{"c":3,"t":35,"y":3.16},{"c":3,"t":38.5,"y":2.98},{"c":3,"t":43,"y":2.75},{"c":3,"t":47,"y":2.96},{"c":3,"t":51.5,"y":3.08},{"c":3,"t":55,"y":2.97},{"c":3,"t":59.5,"y":2.82},{"c":3,"t":64,"y":3.05},{"c":3,"t":67,"y":3.14},{"c":3,"t":72,"y":3.1},{"c":3,"t":78,"y":3.09},{"c":3,"t":84,"y":3.09},{"c":3,"t":88,"y":2.85},{"c":3,"t":92,"y":2.68},{"c":3,"t":95,"y":2.8},{"c":3,"t":99.5,"y":3.3},{"c":3,"t":103.5,"y":3.5},{"c":3,"t":107,"y":3.4},{"c":3,"t":111,"y":3.3},{"c":3,"t":116,"y":3.05},{"c":3,"t":120,"y":2.75},{"c":3,"t":124.7,"y":2.4},{"c":3,"t":129,"y":2.65},{"c":3,"t":135,"y":3.15},{"c":3,"t":141,"y":3.42},{"c":3,"t":146,"y":3.25},{"c":3,"t":152,"y":2.97},{"c":3,"t":158.5,"y":2.86},{"c":3,"t":165,"y":3.07},{"c":3,"t":170,"y":3.14},{"c":3,"t":175,"y":2.98},{"c":3,"t":180,"y":2.86},{"c":3,"t":186,"y":2.96},{"c":3,"t":192,"y":3},{"c":3,"t":200,"y":3.02},{"c":3,"t":206,"y":3.06},{"c":3,"t":214,"y":3},{"c":3,"t":222,"y":2.98},{"c":3,"t":230,"y":2.9},{"c":3,"t":238,"y":2.96},{"c":3,"t":249,"y":3.02},{"c":3,"t":262,"y":3},{"c":3,"t":2000,"y":3},
{"c":2,"t":10,"y":2},{"c":2,"t":29,"y":2},{"c":2,"t":34.6,"y":2.15},{"c":2,"t":38.4,"y":2.03},{"c":2,"t":43.3,"y":1.78},{"c":2,"t":47.8,"y":2.03},{"c":2,"t":53.5,"y":2.08},{"c":2,"t":57.2,"y":1.93},{"c":2,"t":62.8,"y":1.83},{"c":2,"t":68.5,"y":2.03},{"c":2,"t":76,"y":2.18},{"c":2,"t":79.8,"y":2.23},{"c":2,"t":85.4,"y":2.13},{"c":2,"t":91.1,"y":1.93},{"c":2,"t":98.6,"y":1.85},{"c":2,"t":102.3,"y":2.13},{"c":2,"t":107.2,"y":2.47},{"c":2,"t":111,"y":2.37},{"c":2,"t":115.5,"y":2.03},{"c":2,"t":119.3,"y":1.93},{"c":2,"t":122.3,"y":1.98},{"c":2,"t":126.1,"y":1.64},{"c":2,"t":129.8,"y":1.34},{"c":2,"t":134.3,"y":1.64},{"c":2,"t":140,"y":2.23},{"c":2,"t":145.6,"y":2.47},{"c":2,"t":151.3,"y":2.23},{"c":2,"t":156.9,"y":2.03},{"c":2,"t":164.4,"y":2.08},{"c":2,"t":170.1,"y":2.13},{"c":2,"t":175.7,"y":1.98},{"c":2,"t":181.4,"y":1.83},{"c":2,"t":187,"y":1.91},{"c":2,"t":194.5,"y":1.98},{"c":2,"t":202.1,"y":2.08},{"c":2,"t":213.3,"y":2.13},{"c":2,"t":220.8,"y":2.05},{"c":2,"t":228.4,"y":1.95},{"c":2,"t":235.9,"y":1.88},{"c":2,"t":250,"y":1.95},{"c":2,"t":270,"y":2},{"c":2,"t":295,"y":2},{"c":2,"t":298,"y":2.05},{"c":2,"t":301,"y":2},{"c":2,"t":354,"y":2},{"c":2,"t":356,"y":2.04},{"c":2,"t":359,"y":2},{"c":2,"t":519,"y":2},{"c":2,"t":521,"y":2.04},{"c":2,"t":524,"y":2},{"c":2,"t":2000,"y":2},
{"c":1,"t":10,"y":1},{"c":1,"t":10.9,"y":0.95},{"c":1,"t":13.9,"y":1},{"c":1,"t":17.7,"y":0.96},{"c":1,"t":23,"y":0.98},{"c":1,"t":29,"y":1},{"c":1,"t":34.6,"y":1.11},{"c":1,"t":38.4,"y":0.98},{"c":1,"t":44,"y":0.78},{"c":1,"t":49.7,"y":1},{"c":1,"t":53.5,"y":1.05},{"c":1,"t":57.2,"y":0.88},{"c":1,"t":62.8,"y":0.98},{"c":1,"t":70.4,"y":1.08},{"c":1,"t":77.9,"y":1.15},{"c":1,"t":83.5,"y":1.08},{"c":1,"t":91.1,"y":0.88},{"c":1,"t":96.7,"y":0.78},{"c":1,"t":100.5,"y":0.85},{"c":1,"t":104.2,"y":1.18},{"c":1,"t":108,"y":1.47},{"c":1,"t":111.7,"y":1.32},{"c":1,"t":117.4,"y":1.03},{"c":1,"t":121.2,"y":1.08},{"c":1,"t":124.9,"y":0.83},{"c":1,"t":128.7,"y":0.44},{"c":1,"t":132.5,"y":0.25},{"c":1,"t":136.2,"y":0.54},{"c":1,"t":141.9,"y":1.13},{"c":1,"t":147,"y":1.47},{"c":1,"t":152,"y":1.3},{"c":1,"t":157,"y":1.05},{"c":1,"t":164,"y":0.93},{"c":1,"t":172,"y":1.05},{"c":1,"t":176,"y":1.08},{"c":1,"t":181.4,"y":0.93},{"c":1,"t":186,"y":0.81},{"c":1,"t":192.6,"y":0.93},{"c":1,"t":200.2,"y":1},{"c":1,"t":205.8,"y":1.03},{"c":1,"t":212,"y":1.1},{"c":1,"t":220.8,"y":1.05},{"c":1,"t":230,"y":0.97},{"c":1,"t":245,"y":0.98},{"c":1,"t":256,"y":1.04},{"c":1,"t":268,"y":1},{"c":1,"t":300,"y":0.99},{"c":1,"t":360,"y":1},{"c":1,"t":500,"y":1},{"c":1,"t":503,"y":0.97},{"c":1,"t":506,"y":1},{"c":1,"t":840,"y":1},{"c":1,"t":843,"y":0.97},{"c":1,"t":846,"y":1},{"c":1,"t":1066,"y":1},{"c":1,"t":1070,"y":0.97},{"c":1,"t":1200,"y":0.97},{"c":1,"t":1340,"y":0.98},{"c":1,"t":1345,"y":1},{"c":1,"t":1508,"y":1},{"c":1,"t":1511,"y":0.97},{"c":1,"t":1514,"y":1},{"c":1,"t":1766,"y":1},{"c":1,"t":1769,"y":0.97},{"c":1,"t":1772,"y":1},{"c":1,"t":1795,"y":1},{"c":1,"t":1798,"y":1.03},{"c":1,"t":1803,"y":1},{"c":1,"t":1806,"y":0.97},{"c":1,"t":1828,"y":0.97},{"c":1,"t":1831,"y":1},{"c":1,"t":1844,"y":1},{"c":1,"t":1846,"y":1.03},{"c":1,"t":1848,"y":1},{"c":1,"t":1855,"y":0.97},{"c":1,"t":1870,"y":0.97},{"c":1,"t":1873,"y":1},{"c":1,"t":1972,"y":1},{"c":1,"t":1975,"y":0.96},{"c":1,"t":1978,"y":1},{"c":1,"t":2000,"y":1}
]},
"mark": {"type": "line", "color": "#0000ff", "strokeWidth": 1.8, "clip": true},
"encoding": {
  "x": {"field": "t", "type": "quantitative",
    "scale": {"domain": [0, 2000], "nice": false, "zero": false},
    "axis": {"title": "Tempo (ms)",
      "values": [25,50,75,100,125,150,175,200,225,250,275,300,325,350,375,400,425,450,475,500,525,550,575,600,625,650,675,700,725,750,775,800,825,850,875,900,925,950,975,1000,1025,1050,1075,1100,1125,1150,1175,1200,1225,1250,1275,1300,1325,1350,1375,1400,1425,1450,1475,1500,1525,1550,1575,1600,1625,1650,1675,1700,1725,1750,1775,1800,1825,1850,1875,1900,1925,1950,1975,2000],
      "labelExpr": "datum.value % 100 === 0 ? replace(format(datum.value, ','), ',', '.') : ''",
      "labelOverlap": false, "labelFlush": false,
      "grid": true, "gridColor": "#808080", "gridDash": [5, 4], "gridWidth": 1,
      "gridOpacity": {"condition": {"test": "datum.value % 100 === 0 && datum.value < 2000", "value": 1}, "value": 0},
      "tickSize": 6, "tickColor": "#000", "tickWidth": 1,
      "domainColor": "#000", "domainWidth": 3,
      "labelFont": "DejaVu Sans", "labelFontSize": 15, "labelColor": "#1a1a1a", "labelPadding": 8,
      "titleFont": "DejaVu Sans", "titleFontSize": 15, "titleFontWeight": "normal", "titleColor": "#1a1a1a", "titlePadding": 6}},
  "y": {"field": "y", "type": "quantitative",
    "scale": {"domain": [-0.5, 24.5], "nice": false, "zero": false},
    "axis": {"title": "Distanza (m)", "tickCount": 250,
      "labelExpr": "abs(datum.value - round(datum.value)) < 0.001 ? format(round(datum.value), 'd') : ''",
      "labelOverlap": false, "labelFlush": false,
      "tickSize": {"condition": {"test": "abs(datum.value - round(datum.value)) < 0.001", "value": 8}, "value": 3},
      "tickColor": "#000", "tickWidth": 1,
      "grid": true, "gridColor": "#808080", "gridDash": [5, 4], "gridWidth": 1,
      "gridOpacity": {"condition": {"test": "abs(datum.value - floor(datum.value) - 0.5) < 0.001 && datum.value > 0 && datum.value < 24", "value": 1}, "value": 0},
      "domainColor": "#000", "domainWidth": 3,
      "labelFont": "DejaVu Sans", "labelFontSize": 15, "labelColor": "#1a1a1a", "labelPadding": 3,
      "titleFont": "DejaVu Sans", "titleFontSize": 15, "titleFontWeight": "normal", "titleColor": "#1a1a1a", "titlePadding": 14}},
  "detail": {"field": "c", "type": "nominal"}
}
}
